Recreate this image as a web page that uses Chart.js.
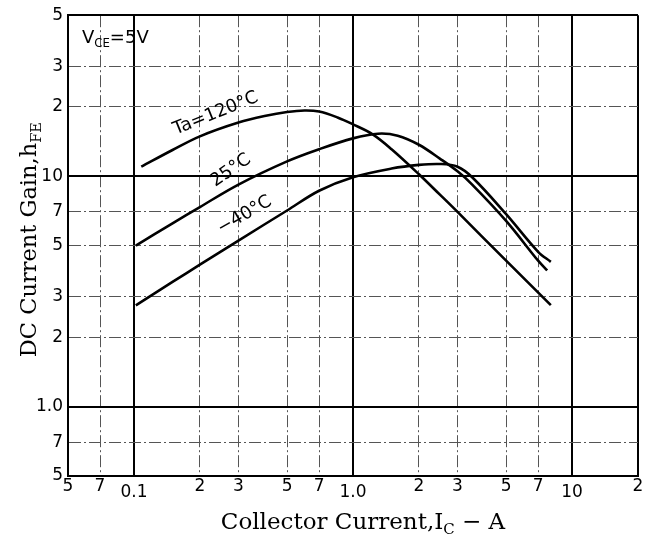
<!DOCTYPE html>
<html lang="en">
<head>
<meta charset="UTF-8">
<title>DC Current Gain vs Collector Current</title>
<script src="https://cdn.jsdelivr.net/npm/chart.js@4"></script>
<style>
  html, body { margin: 0; padding: 0; background: #fff; }
  #wrap { width: 650px; height: 541px; }
</style>
</head>
<body>
<div id="wrap"><canvas id="hfeChart"></canvas></div>
<script>
// Collector current (A) and DC current gain
const ic120 = [0.108, 0.15, 0.2, 0.3, 0.4, 0.5, 0.6, 0.7, 0.85, 1.0, 1.23, 1.5, 2.0, 2.5, 3.0, 5.0, 8.0];
const hfe120 = [11.0, 13.0, 14.9, 17.1, 18.3, 19.0, 19.3, 19.1, 18.0, 16.8, 15.2, 13.1, 10.2, 8.3, 7.0, 4.3, 2.76];

const ic25 = [0.102, 0.15, 0.2, 0.3, 0.5, 0.7, 1.0, 1.3, 1.6, 2.0, 2.5, 3.0, 3.5, 5.0, 7.0, 7.7];
const hfe25 = [5.0, 6.25, 7.35, 9.2, 11.6, 13.1, 14.6, 15.3, 15.0, 13.7, 11.9, 10.5, 9.2, 6.4, 4.3, 3.9];

const icM40 = [0.102, 0.15, 0.2, 0.3, 0.5, 0.7, 1.0, 1.5, 2.0, 2.5, 3.0, 3.5, 5.0, 7.0, 8.0];
const hfeM40 = [2.75, 3.48, 4.13, 5.26, 7.1, 8.65, 9.9, 10.8, 11.2, 11.3, 11.0, 9.9, 6.85, 4.7, 4.25];

const curveNames = ['Ta=120°C', '25°C', '−40°C'];

// axis ticks
const xTickValues = [0.05, 0.07, 0.1, 0.2, 0.3, 0.5, 0.7, 1, 2, 3, 5, 7, 10, 20];
const xTickLabels = ['5', '7', '0.1', '2', '3', '5', '7', '1.0', '2', '3', '5', '7', '10', '2'];
const yTickValues = [0.5, 0.7, 1, 2, 3, 5, 7, 10, 20, 30, 50];
const yTickLabels = ['5', '7', '1.0', '2', '3', '5', '7', '10', '2', '3', '5'];
const decades = [0.1, 1, 10];

const toPoints = (xs, ys) => xs.map((v, i) => ({ x: v, y: ys[i] }));

const tickFont = "'DejaVu Sans', sans-serif";
const titleFont = "'DejaVu Serif', serif";

const isMajor = (ctx, edges) => {
  if (!ctx.tick) return true;
  const v = ctx.tick.value;
  return decades.some(d => Math.abs(v - d) < 1e-9) || edges.some(d => Math.abs(v - d) < 1e-9);
};

// text with subscripts, left aligned at x
function drawRich(ctx, parts, x, y, size, family) {
  let cx = x;
  parts.forEach(p => {
    const s = p.sub ? size * 0.65 : size;
    ctx.font = s + 'px ' + family;
    ctx.fillText(p.t, cx, y + (p.sub ? size * 0.22 : 0));
    cx += ctx.measureText(p.t).width;
  });
  return cx - x;
}
function richWidth(ctx, parts, size, family) {
  let w = 0;
  parts.forEach(p => {
    ctx.font = (p.sub ? size * 0.65 : size) + 'px ' + family;
    w += ctx.measureText(p.t).width;
  });
  return w;
}

const annotate = {
  id: 'annotate',
  afterDraw(chart) {
    const { ctx, chartArea: a, scales: { x, y } } = chart;
    ctx.save();
    ctx.fillStyle = '#000';
    ctx.textBaseline = 'alphabetic';
    ctx.textAlign = 'left';

    // V_CE = 5V
    drawRich(ctx, [{ t: 'V' }, { t: 'CE', sub: true }, { t: '=5V' }], a.left + 14, a.top + 28, 18, tickFont);

    // curve labels along the lines
    const anchors = [[0.236, 18.7, -22], [0.277, 10.6, -35], [0.32, 6.79, -30]];
    ctx.font = '18px ' + tickFont;
    ctx.textAlign = 'center';
    ctx.textBaseline = 'middle';
    anchors.forEach((p, i) => {
      ctx.save();
      ctx.translate(x.getPixelForValue(p[0]), y.getPixelForValue(p[1]));
      ctx.rotate(p[2] * Math.PI / 180);
      ctx.fillText(curveNames[i], 0, 0);
      ctx.restore();
    });

    // axis titles
    ctx.textAlign = 'left';
    ctx.textBaseline = 'alphabetic';
    const xt = [{ t: 'Collector Current,I' }, { t: 'C', sub: true }, { t: ' − A' }];
    const xw = richWidth(ctx, xt, 23, titleFont);
    drawRich(ctx, xt, (a.left + a.right) / 2 + 10 - xw / 2, a.bottom + 53, 23, titleFont);

    const yt = [{ t: 'DC Current Gain,h' }, { t: 'FE', sub: true }];
    const yw = richWidth(ctx, yt, 22.5, titleFont);
    ctx.translate(a.left - 32, (a.top + a.bottom) / 2 - 6 + yw / 2);
    ctx.rotate(-Math.PI / 2);
    drawRich(ctx, yt, 0, 0, 22.5, titleFont);
    ctx.restore();
  }
};

const lineStyle = {
  showLine: true,
  borderColor: '#000',
  borderWidth: 2.6,
  pointRadius: 0,
  fill: false,
  tension: 0.35
};

new Chart(document.getElementById('hfeChart'), {
  type: 'scatter',
  data: {
    datasets: [
      Object.assign({ label: curveNames[0], data: toPoints(ic120, hfe120) }, lineStyle),
      Object.assign({ label: curveNames[1], data: toPoints(ic25, hfe25) }, lineStyle),
      Object.assign({ label: curveNames[2], data: toPoints(icM40, hfeM40) }, lineStyle)
    ]
  },
  options: {
    responsive: true,
    maintainAspectRatio: false,
    animation: false,
    layout: { padding: { left: 0, right: 12, top: 10, bottom: 0 } },
    plugins: {
      legend: { display: false },
      tooltip: { enabled: false }
    },
    scales: {
      x: {
        type: 'logarithmic',
        min: 0.05,
        max: 20,
        afterBuildTicks: (scale) => { scale.ticks = xTickValues.map(v => ({ value: v })); },
        afterFit: (scale) => { scale.height = 65; },
        border: {
          display: true, color: '#000', width: 2,
          dash: (ctx) => isMajor(ctx, [0.05, 20]) ? [] : [12, 3, 2, 3]
        },
        grid: {
          drawTicks: false,
          color: (ctx) => isMajor(ctx, [0.05, 20]) ? '#000' : '#555',
          lineWidth: (ctx) => isMajor(ctx, [0.05, 20]) ? 2 : 1
        },
        ticks: {
          autoSkip: false,
          maxRotation: 0,
          padding: 0,
          color: '#000',
          font: (ctx) => {
            const v = ctx.tick ? ctx.tick.value : 0;
            const low = decades.some(d => Math.abs(v - d) < 1e-9);
            return { family: tickFont, size: 17, lineHeight: low ? 2.0 : 1.2 };
          },
          callback: (v, i) => xTickLabels[i]
        }
      },
      y: {
        type: 'logarithmic',
        min: 0.5,
        max: 50,
        afterBuildTicks: (scale) => { scale.ticks = yTickValues.map(v => ({ value: v })); },
        afterFit: (scale) => { scale.width = 68; },
        border: {
          display: true, color: '#000', width: 2,
          dash: (ctx) => isMajor(ctx, [0.5, 50]) ? [] : [12, 3, 2, 3]
        },
        grid: {
          drawTicks: false,
          color: (ctx) => isMajor(ctx, [0.5, 50]) ? '#000' : '#555',
          lineWidth: (ctx) => isMajor(ctx, [0.5, 50]) ? 2 : 1
        },
        ticks: {
          autoSkip: false,
          padding: 5,
          color: '#000',
          font: { family: tickFont, size: 17 },
          callback: (v, i) => yTickLabels[i]
        }
      }
    }
  },
  plugins: [annotate]
});
</script>
</body>
</html>
